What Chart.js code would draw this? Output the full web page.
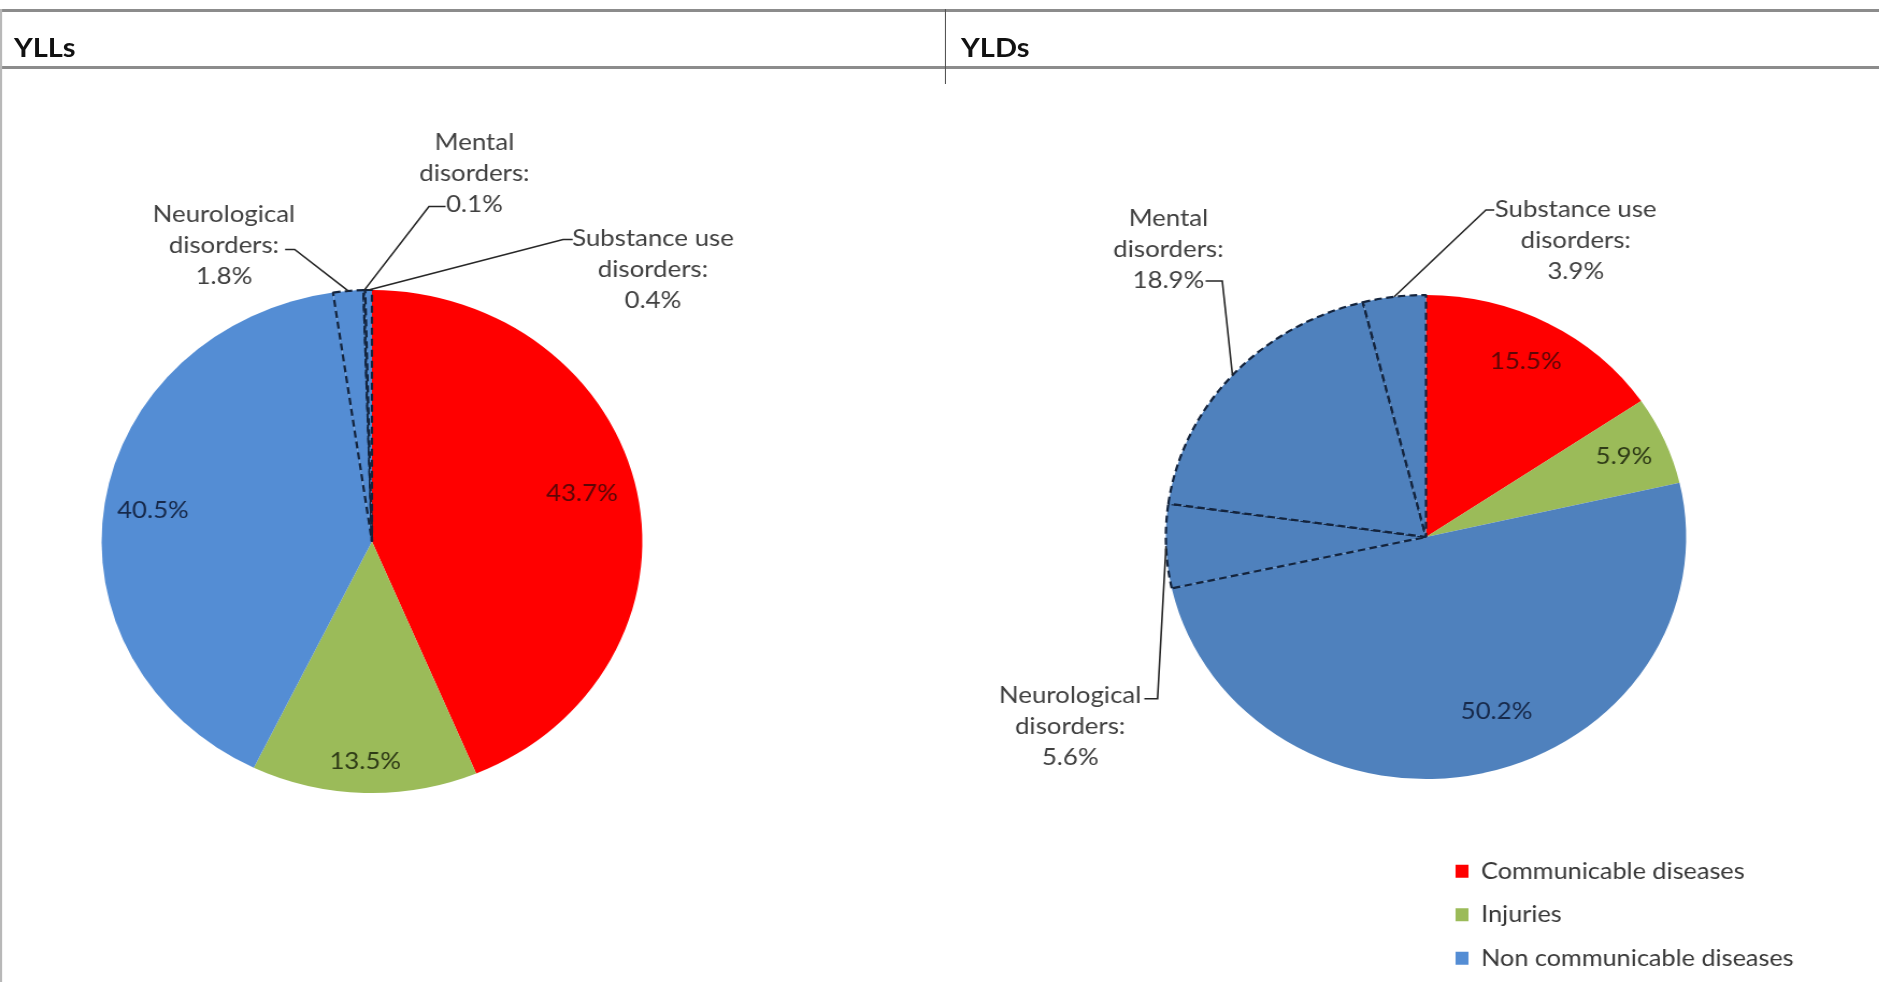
<!DOCTYPE html>
<html>
<head>
<meta charset="utf-8">
<title>YLLs and YLDs by cause group</title>
<script src="https://cdn.jsdelivr.net/npm/chart.js@4.4.1/dist/chart.umd.min.js"></script>
<style>
  html, body { margin: 0; padding: 0; background: #fff; width: 1879px; height: 982px; overflow: hidden; }
  /* the sheet is laid out narrower and widened as a whole */
  #sheet { position: absolute; left: 0; top: 0; width: 1748px; height: 982px;
           transform: scaleX(1.075); transform-origin: 0 0; }
  .rule { position: absolute; background: #8c8c8c; }
  .head { position: absolute; top: 29px; font: bold 27px Lato, sans-serif; color: #111; line-height: 36px; }
  canvas { position: absolute; top: 0; }
</style>
</head>
<body>
<div id="sheet">
  <div class="rule" style="left:0;top:9px;width:1748px;height:3px"></div>
  <div class="rule" style="left:0;top:66px;width:1748px;height:3px"></div>
  <div class="rule" style="left:0;top:9px;width:2px;height:973px;background:#b8b8b8"></div>
  <div class="rule" style="left:878.5px;top:9px;width:1.4px;height:75px;background:#555"></div>
  <div class="head" id="head0" style="left:13px"></div>
  <div class="head" id="head1" style="left:894px"></div>
  <!-- the YLL canvas also carries the shared legend, so it spans the whole sheet -->
  <canvas id="yllChart" width="2448" height="1000" style="left:-700px;width:2448px;height:1000px"></canvas>
  <canvas id="yldChart" width="868" height="1000" style="left:880px;width:868px;height:1000px"></canvas>
</div>
<script>
// Cause groups and the non-communicable sub-causes shown as separate slices
const causeGroups = ['Communicable diseases', 'Injuries', 'Non communicable diseases'];
const ncdSubcauses = ['Neurological disorders', 'Mental disorders', 'Substance use disorders'];
const categories = causeGroups.concat(ncdSubcauses);

// Share of total (%) per category
const yllShares = [43.7, 13.5, 40.5, 1.8, 0.1, 0.4];
const yldShares = [15.5, 5.9, 50.2, 5.6, 18.9, 3.9];

const panelTitles = ['YLLs', 'YLDs'];

document.getElementById('head0').textContent = panelTitles[0];
document.getElementById('head1').textContent = panelTitles[1];

const FONT_FAMILY = 'Lato, sans-serif';
Chart.defaults.font.family = FONT_FAMILY;

const isSubcause = i => i >= causeGroups.length;

// Draws the in-slice percentages and the callout labels with leader lines
const calloutPlugin = {
  id: 'callouts',
  afterDatasetsDraw(chart, _args, opts) {
    const arcs = chart.getDatasetMeta(0).data;
    const values = chart.data.datasets[0].data;
    const ctx = chart.ctx;
    const cx = arcs[0].x, cy = arcs[0].y, r = arcs[0].outerRadius;
    const mid = a => (a.startAngle + a.endAngle) / 2;
    const pct = v => v.toFixed(1) + '%';
    ctx.save();
    ctx.font = opts.font;
    ctx.textAlign = 'center';
    ctx.textBaseline = 'middle';
    opts.inside.forEach(p => {
      const ang = mid(arcs[p.index]) + (p.turn || 0) * Math.PI / 180;
      ctx.fillStyle = p.color;
      ctx.fillText(pct(values[p.index]), cx + Math.cos(ang) * r * p.dist, cy + Math.sin(ang) * r * p.dist);
    });
    opts.outside.forEach(p => {
      const ang = mid(arcs[p.index]);
      const name = chart.data.labels[p.index];
      const cut = name.lastIndexOf(' ');
      const lines = [name.slice(0, cut), name.slice(cut + 1) + ':', pct(values[p.index])];
      ctx.fillStyle = opts.textColor;
      lines.forEach((t, i) => ctx.fillText(t, cx + p.tx, cy + p.ty + i * opts.lineHeight));
      ctx.beginPath();
      ctx.moveTo(cx + p.sx, cy + p.sy);
      ctx.lineTo(cx + p.ex, cy + p.sy);
      ctx.lineTo(cx + Math.cos(ang) * r, cy + Math.sin(ang) * r);
      ctx.setLineDash([]);
      ctx.lineWidth = 1.6;
      ctx.strokeStyle = opts.leaderColor;
      ctx.stroke();
    });
    ctx.restore();
  }
};

function pieConfig(values, colors, radius, padding, legend, callouts) {
  return {
    type: 'pie',
    data: {
      labels: categories,
      datasets: [{
        data: values,
        backgroundColor: colors,
        borderColor: c => isSubcause(c.dataIndex) ? '#14243d' : 'rgba(0,0,0,0)',
        borderWidth: c => isSubcause(c.dataIndex) ? 2.2 : 0,
        borderDash: [7, 4],
        borderAlign: 'center',
        radius: radius,
        clip: false,
        hoverOffset: 0
      }]
    },
    options: {
      responsive: false,
      animation: false,
      events: [],
      devicePixelRatio: 1,
      layout: { padding: padding },
      plugins: {
        tooltip: { enabled: false },
        legend: legend,
        callouts: Object.assign({
          font: '24px ' + FONT_FAMILY,
          textColor: '#404040',
          leaderColor: '#262626',
          lineHeight: 31
        }, callouts)
      }
    },
    plugins: [calloutPlugin]
  };
}

const red = '#ff0000', green = '#9bbb59';

// Legend geometry: the right-hand legend box starts where the chart area ends,
// so the right padding is sized from the widest legend entry.
const legendFontSize = 23.5, legendPad = 20, legendBox = 12;
const measureCtx = document.createElement('canvas').getContext('2d');
measureCtx.font = legendFontSize + 'px ' + FONT_FAMILY;
const widestEntry = Math.max(...causeGroups.map(t => measureCtx.measureText(t).width));
const legendWidth = legendPad + legendBox + legendFontSize / 2 + widestEntry + 10;
const yllCanvasWidth = 2448, legendLeft = 2034;

new Chart(document.getElementById('yllChart'), pieConfig(
  yllShares,
  [red, green, '#548dd4', '#548dd4', '#548dd4', '#548dd4'],
  251.5,
  { left: 58, right: yllCanvasWidth - legendLeft - legendWidth, top: 93, bottom: 10 },
  {
    display: true,
    position: 'right',
    align: 'end',
    labels: {
      boxWidth: legendBox,
      boxHeight: 13,
      padding: legendPad,
      color: '#383838',
      font: { family: FONT_FAMILY, size: legendFontSize },
      filter: item => !isSubcause(item.index)
    }
  },
  {
    inside: [
      { index: 0, dist: 0.80, turn: -2.5, color: '#5c0606' },
      { index: 1, dist: 0.875, color: '#2f3b17' },
      { index: 2, dist: 0.82, color: '#17294a' }
    ],
    outside: [
      { index: 3, tx: -137.7, ty: -327, sx: -80.8, sy: -292, ex: -71.9 },
      { index: 4, tx: 95.3, ty: -399, sx: 68.5, sy: -335, ex: 53 },
      { index: 5, tx: 261.4, ty: -303, sx: 186.7, sy: -302, ex: 177.8 }
    ]
  }
));

new Chart(document.getElementById('yldChart'), pieConfig(
  yldShares,
  [red, green, '#4f81bd', '#4f81bd', '#4f81bd', '#4f81bd'],
  242,
  { left: 25, right: 0, top: 84, bottom: 10 },
  { display: false },
  {
    inside: [
      { index: 0, dist: 0.82, color: '#5c0606' },
      { index: 1, dist: 0.83, color: '#2f3b17' },
      { index: 2, dist: 0.77, turn: -8, color: '#17294a' }
    ],
    outside: [
      { index: 3, tx: -331, ty: 158, sx: -262, sy: 161.7, ex: -249.7 },
      { index: 4, tx: -239.6, ty: -318.7, sx: -205, sy: -256, ex: -189.5 },
      { index: 5, tx: 139.3, ty: -328, sx: 63.5, sy: -327, ex: 55.7 }
    ]
  }
));
</script>
</body>
</html>
